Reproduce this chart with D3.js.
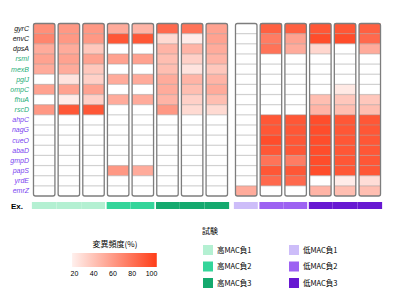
<!DOCTYPE html>
<html>
<head>
<meta charset="utf-8">
<script src="https://cdn.jsdelivr.net/npm/d3@7"></script>
<style>
  body { margin: 0; background: #fff; }
  text { font-family: "Liberation Sans", "DejaVu Sans", sans-serif; }
  .jp { font-family: "Noto Sans CJK JP", sans-serif; }
</style>
</head>
<body>
<div id="chart"></div>
<script>
// gene rows (top to bottom) and their label colour class
let genes = ["gyrC", "envC", "dpsA", "rsmI", "mexB", "pglJ", "ompC", "fhuA", "rscD",
             "ahpC", "nagG", "cueO", "abaD", "gmpD", "papS", "yrdE", "emrZ"];
let geneClass = ["k", "k", "k", "g", "g", "g", "g", "g", "g",
                 "p", "p", "p", "p", "p", "p", "p", "p"];

// samples (columns) and which test they belong to
let samplesLeft = ["A1", "A2", "A3", "B1", "B2", "C1", "C2", "C3"];
let samplesRight = ["D1", "E1", "E2", "F1", "F2", "F3"];
let sampleTest = {
    A1: "高MAC負1", A2: "高MAC負1", A3: "高MAC負1",
    B1: "高MAC負2", B2: "高MAC負2",
    C1: "高MAC負3", C2: "高MAC負3", C3: "高MAC負3",
    D1: "低MAC負1",
    E1: "低MAC負2", E2: "低MAC負2",
    F1: "低MAC負3", F2: "低MAC負3", F3: "低MAC負3"
};
let tests = ["高MAC負1", "高MAC負2", "高MAC負3", "低MAC負1", "低MAC負2", "低MAC負3"];
let testColors = ["#b4f0d2", "#34d59a", "#14a96e", "#cdbdf9", "#9d62f2", "#6718d2"];

// mutation frequency (%) per sample, one value per gene row
let freqA1 = [60, 65, 45, 50, 45, 0, 50, 0, 55, 0, 0, 0, 0, 0, 0, 0, 0];
let freqA2 = [55, 55, 45, 50, 45, 15, 50, 10, 90, 0, 0, 0, 0, 0, 0, 0, 0];
let freqA3 = [55, 55, 30, 50, 30, 25, 50, 25, 90, 0, 0, 0, 0, 0, 0, 0, 0];
let freqB1 = [45, 90, 0, 50, 0, 45, 0, 45, 0, 0, 0, 0, 0, 0, 55, 0, 0];
let freqB2 = [40, 90, 0, 50, 0, 45, 0, 45, 0, 0, 0, 0, 0, 0, 45, 0, 0];
let freqC1 = [80, 20, 40, 35, 35, 45, 45, 40, 55, 0, 0, 0, 0, 0, 0, 0, 0];
let freqC2 = [75, 10, 40, 25, 15, 40, 35, 25, 20, 0, 0, 0, 0, 0, 0, 0, 0];
let freqC3 = [50, 50, 45, 40, 30, 40, 45, 35, 20, 0, 0, 0, 0, 0, 0, 0, 0];
let freqD1 = [0, 0, 0, 0, 0, 0, 0, 0, 0, 0, 0, 0, 0, 0, 0, 0, 45];
let freqE1 = [85, 70, 75, 0, 0, 0, 0, 0, 0, 90, 90, 95, 90, 75, 90, 80, 0];
let freqE2 = [85, 50, 45, 0, 0, 0, 0, 0, 0, 90, 90, 90, 90, 70, 90, 80, 0];
let freqF1 = [90, 95, 22, 0, 0, 0, 0, 35, 40, 95, 95, 95, 95, 95, 95, 0, 40];
let freqF2 = [90, 95, 0, 0, 0, 0, 12, 30, 35, 90, 90, 90, 90, 90, 90, 10, 35];
let freqF3 = [85, 80, 45, 0, 0, 0, 0, 30, 35, 90, 90, 90, 90, 90, 90, 18, 35];

let freq = {A1: freqA1, A2: freqA2, A3: freqA3, B1: freqB1, B2: freqB2,
            C1: freqC1, C2: freqC2, C3: freqC3, D1: freqD1, E1: freqE1,
            E2: freqE2, F1: freqF1, F2: freqF2, F3: freqF3};

let legendTicks = [20, 40, 60, 80, 100];

let width = 400, height = 300;

let svg = d3.select("#chart").append("svg")
    .attr("width", width)
    .attr("height", height);

let color = d3.scaleLinear()
    .domain([0, 100])
    .range(["#ffffff", "#ff4420"])
    .interpolate(d3.interpolateRgb);

let testColor = d3.scaleOrdinal().domain(tests).range(testColors);
let labelColor = d3.scaleOrdinal().domain(["k", "g", "p"]).range(["#111", "#1fae78", "#7a3ff0"]);

let yScale = d3.scaleBand()
    .domain(genes)
    .range([23.5, 196]);

let xLeft = d3.scaleBand()
    .domain(samplesLeft)
    .range([32, 229])
    .paddingInner(0.13)
    .paddingOuter(0.06);

let xRight = d3.scaleBand()
    .domain(samplesRight)
    .range([234, 382])
    .paddingInner(0.13)
    .paddingOuter(0.06);

function drawGroup(samples, xScale) {
    samples.forEach(s => {
        let g = svg.append("g");
        let x0 = xScale(s), bw = xScale.bandwidth();

        g.selectAll("rect.cell")
            .data(genes)
            .enter().append("rect")
            .attr("class", "cell")
            .attr("x", x0)
            .attr("y", d => yScale(d))
            .attr("width", bw)
            .attr("height", yScale.bandwidth())
            .attr("fill", (d, i) => color(freq[s][i]));

        // row separators
        g.selectAll("line.sep")
            .data(genes.slice(1))
            .enter().append("line")
            .attr("x1", x0)
            .attr("x2", x0 + bw)
            .attr("y1", d => yScale(d))
            .attr("y2", d => yScale(d))
            .style("stroke", "#9a9a9a")
            .style("stroke-opacity", 0.45)
            .style("stroke-width", 1.2);

        g.append("rect")
            .attr("x", x0)
            .attr("y", yScale.range()[0])
            .attr("width", bw)
            .attr("height", yScale.range()[1] - yScale.range()[0])
            .attr("rx", 2)
            .style("fill", "none")
            .style("stroke", "#7d7d7d")
            .style("stroke-width", 1.3);

        // annotation bar
        svg.append("rect")
            .attr("x", x0 - 1.6)
            .attr("y", 202)
            .attr("width", bw + 3.2)
            .attr("height", 7)
            .attr("fill", testColor(sampleTest[s]));
    });
}
drawGroup(samplesLeft, xLeft);
drawGroup(samplesRight, xRight);

// small gaps between test groups in the annotation bar
[["A3", "B1", xLeft], ["B2", "C1", xLeft], ["D1", "E1", xRight], ["E2", "F1", xRight]].forEach(p => {
    let xs = p[2];
    let a = xs(p[0]) + xs.bandwidth() + 0.8, b = xs(p[1]) - 0.8;
    svg.append("rect").attr("x", a).attr("y", 201).attr("width", b - a).attr("height", 9).attr("fill", "#fff");
});

// row labels
svg.selectAll(".gene-label")
    .data(genes)
    .enter().append("text")
    .attr("class", "gene-label")
    .attr("x", 29)
    .attr("y", d => yScale(d) + yScale.bandwidth() / 2)
    .attr("dy", "0.35em")
    .attr("text-anchor", "end")
    .style("font-size", "7px")
    .style("font-style", "italic")
    .attr("fill", (d, i) => labelColor(geneClass[i]))
    .text(d => d);

svg.append("text")
    .attr("x", 11)
    .attr("y", 208.5)
    .style("font-size", "8px")
    .style("font-weight", "bold")
    .text("Ex.");

// colour legend
let legX = d3.scaleLinear().domain([20, 100]).range([74, 151]);
let grad = svg.append("defs").append("linearGradient")
    .attr("id", "freqGrad");
grad.selectAll("stop")
    .data([0, 25, 50, 75, 100])
    .enter().append("stop")
    .attr("offset", d => d + "%")
    .attr("stop-color", d => color(8 + d * 0.95));

svg.append("text")
    .attr("class", "jp")
    .attr("x", 115)
    .attr("y", 247)
    .attr("text-anchor", "middle")
    .style("font-size", "8px")
    .text("変異頻度(%)");

svg.append("rect")
    .attr("x", legX(18))
    .attr("y", 253)
    .attr("width", legX(106) - legX(18))
    .attr("height", 14)
    .attr("fill", "url(#freqGrad)");

svg.append("g")
    .attr("transform", "translate(0,267)")
    .call(d3.axisBottom(legX).tickValues(legendTicks).tickSize(2).tickPadding(2))
    .call(g => g.select(".domain").remove())
    .call(g => g.selectAll(".tick line").attr("stroke", "#fff"))
    .selectAll("text")
    .style("font-size", "7px")
    .style("font-family", "Liberation Sans, sans-serif");

// test legend
svg.append("text")
    .attr("class", "jp")
    .attr("x", 202)
    .attr("y", 234)
    .style("font-size", "8px")
    .text("試験");

let legItems = svg.selectAll(".test-leg")
    .data(tests)
    .enter().append("g")
    .attr("class", "test-leg")
    .attr("transform", (d, i) => `translate(${i < 3 ? 203 : 289},${245 + (i % 3) * 16.5})`);

legItems.append("rect")
    .attr("width", 10)
    .attr("height", 10)
    .attr("fill", d => testColor(d));

legItems.append("text")
    .attr("class", "jp")
    .attr("x", 14)
    .attr("y", 5)
    .attr("dy", "0.35em")
    .style("font-size", "7.5px")
    .text(d => d);
</script>
</body>
</html>
